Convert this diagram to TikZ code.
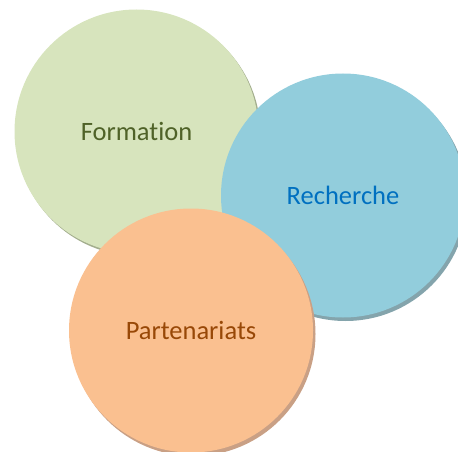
\documentclass[tikz,border=0pt]{standalone}
\usepackage{fontspec}
\setmainfont{Carlito}[Ligatures=NoCommon]
\definecolor{gfill}{HTML}{D7E4BD}
\definecolor{gtext}{HTML}{4F6228}
\definecolor{gshad}{HTML}{A3AE8E}
\definecolor{bfill}{HTML}{92CDDC}
\definecolor{btext}{HTML}{0070C0}
\definecolor{bshad}{HTML}{84A4AC}
\definecolor{ofill}{HTML}{FAC090}
\definecolor{otext}{HTML}{984807}
\definecolor{oshad}{HTML}{C9A085}
\begin{document}
\begin{tikzpicture}[x=1pt,y=-1pt,
  bubble/.style={circle,inner sep=0pt,minimum size=244pt,font=\fontsize{26.5}{30}\selectfont},
  shadowbubble/.style={circle,inner sep=0pt,minimum size=244pt}]
\useasboundingbox (0,0) rectangle (458,452);
% Formation
\node[shadowbubble,fill=gshad] (fs) at (138.5,134) {};
\node[bubble,fill=gfill,text=gtext] (f) at (136.5,131.5) {Formation};
% Recherche
\node[shadowbubble,fill=bshad] (rs) at (345.5,199) {};
\node[bubble,fill=bfill,text=btext] (r) at (343,195.5) {Recherche};
% Partenariats
\node[shadowbubble,fill=oshad] (ps) at (193.5,334) {};
\node[bubble,fill=ofill,text=otext] (p) at (191,330.5) {Partenariats};
\end{tikzpicture}
\end{document}
